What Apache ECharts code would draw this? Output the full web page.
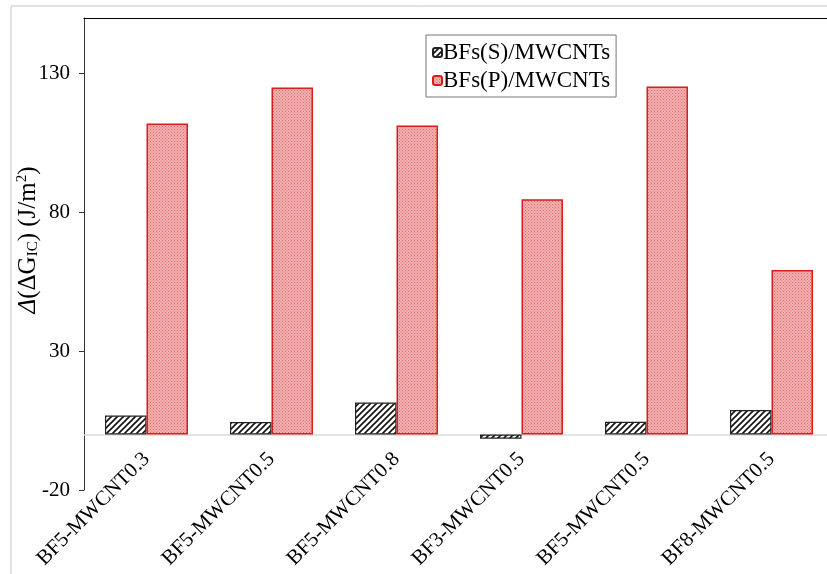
<!DOCTYPE html>
<html>
<head>
<meta charset="utf-8">
<script src="https://cdn.jsdelivr.net/npm/echarts@6/dist/echarts.min.js"></script>
<style>html,body{margin:0;padding:0;background:#fff;}#c{width:827px;height:574px;}</style>
</head>
<body>
<div id="c"></div>
<script>
const categories = ['BF5-MWCNT0.3','BF5-MWCNT0.5','BF5-MWCNT0.8','BF3-MWCNT0.5','BF5-MWCNT0.5','BF8-MWCNT0.5'];
const seriesS = [6.8, 4.5, 11.5, -1.5, 4.6, 8.8];
const seriesP = [112, 125, 111.3, 84.7, 125.3, 59.2];
const yTicks = {min: -20, max: 150, interval: 50};

function hatch() {
  const c = document.createElement('canvas');
  c.width = 6; c.height = 6;
  const g = c.getContext('2d');
  g.fillStyle = '#fff'; g.fillRect(0,0,6,6);
  g.strokeStyle = '#111'; g.lineWidth = 1.6;
  g.beginPath();
  g.moveTo(-1,7); g.lineTo(7,-1);
  g.moveTo(-4,4); g.lineTo(4,-4);
  g.moveTo(2,10); g.lineTo(10,2);
  g.stroke();
  return c;
}
function dots() {
  const c = document.createElement('canvas');
  c.width = 3; c.height = 3;
  const g = c.getContext('2d');
  g.fillStyle = '#f3b2b2'; g.fillRect(0,0,3,3);
  g.fillStyle = '#dc6a6a';
  g.fillRect(0,0,1,1); g.fillRect(1.5,1.5,1,1);
  return c;
}

const chart = echarts.init(document.getElementById('c'), null, {renderer: 'canvas'});
const font = '"Liberation Serif", "Times New Roman", serif';
chart.setOption({
  animation: false,
  textStyle: {fontFamily: font},
  graphic: [{
    type: 'rect', shape: {x: 11, y: 6, width: 900, height: 700},
    style: {fill: 'none', stroke: '#c8c8c8', lineWidth: 1}, z: -1
  }],
  legend: {
    top: 35, left: 426,
    orient: 'vertical',
    itemWidth: 9, itemHeight: 9, itemGap: 5,
    padding: [6, 6, 5, 6],
    borderColor: '#777', borderWidth: 1,
    textStyle: {fontFamily: font, fontSize: 23, color: '#000', padding: [0,0,0,-4]},
    data: ['BFs(S)/MWCNTs', 'BFs(P)/MWCNTs']
  },
  grid: {left: 84, top: 18, right: -7, bottom: 84, containLabel: false, outerBoundsMode: 'none'},
  xAxis: [{
    type: 'category', data: categories,
    axisLine: {onZero: true, lineStyle: {color: '#dcdcdc', width: 1.5}},
    axisTick: {show: false},
    axisLabel: {rotate: 45, margin: -34, fontSize: 21, color: '#000', fontFamily: font, interval: 0}
  }, {
    type: 'category', data: categories, position: 'top',
    axisLine: {show: true, onZero: false, lineStyle: {color: '#000', width: 1.2}},
    axisTick: {show: false}, axisLabel: {show: false}
  }],
  yAxis: {
    type: 'value', min: yTicks.min, max: yTicks.max, interval: yTicks.interval,
    axisLine: {show: true, lineStyle: {color: '#333', width: 1}},
    axisTick: {show: true, length: 5, lineStyle: {color: '#333'}},
    splitLine: {show: false},
    axisLabel: {fontSize: 21, color: '#000', fontFamily: font, margin: 14, showMaxLabel: false},
    name: '{i|Δ}{n|(ΔG}{s|IC}{n|) (J/m}{p|2}{n|)}',
    nameLocation: 'middle', nameRotate: 90, nameGap: 43, nameMoveOverlap: false,
    nameTextStyle: {
      padding: [0, 0, 0, 28],
      rich: {
        i: {fontFamily: font, fontSize: 25, fontStyle: 'italic', color: '#000'},
        n: {fontFamily: font, fontSize: 25, color: '#000'},
        s: {fontFamily: font, fontSize: 15, color: '#000', padding: [11,0,0,0]},
        p: {fontFamily: font, fontSize: 15, color: '#000', padding: [0,0,11,0]}
      }
    }
  },
  series: [{
    name: 'BFs(S)/MWCNTs', type: 'bar', data: seriesS,
    barGap: '0%', barCategoryGap: '33.6%',
    itemStyle: {color: {image: hatch(), repeat: 'repeat'}, borderColor: '#222', borderWidth: 1.2}
  }, {
    name: 'BFs(P)/MWCNTs', type: 'bar', data: seriesP,
    barGap: '0%', barCategoryGap: '33.6%',
    itemStyle: {color: {image: dots(), repeat: 'repeat'}, borderColor: '#d91c1c', borderWidth: 1.5}
  }]
});
</script>
</body>
</html>
